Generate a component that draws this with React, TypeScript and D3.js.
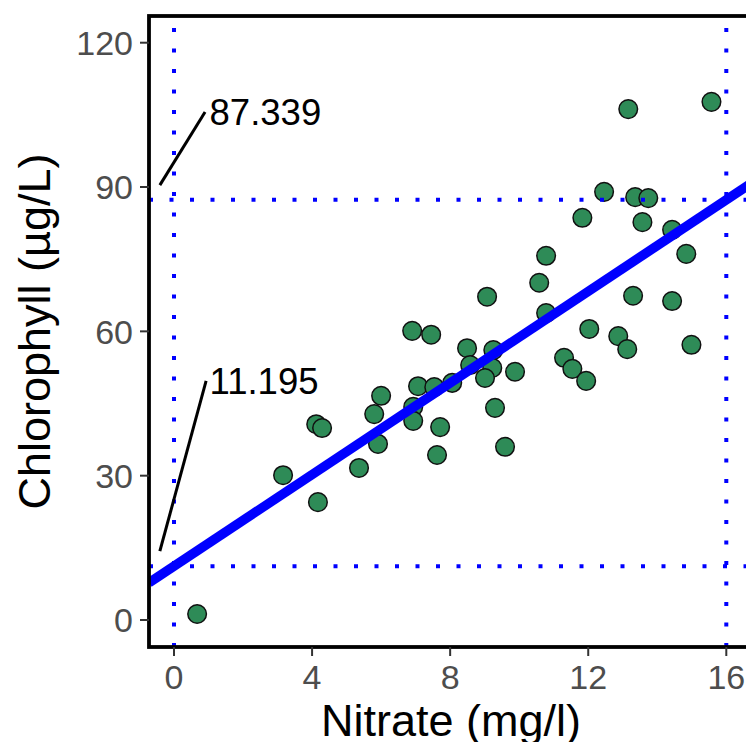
import React from "react";
import * as d3 from "d3";

const nitrate = [0.67, 3.16, 4.17, 4.12, 4.29, 5.36, 5.91, 5.8, 6.0, 6.9, 7.45, 7.07, 6.93, 6.93, 7.71, 7.62, 7.54, 8.06, 8.49, 9.25, 8.58, 9.22, 9.01, 9.88, 9.3, 9.59, 10.78, 10.58, 9.07, 10.78, 11.3, 11.54, 11.94, 12.03, 12.87, 13.13, 13.3, 14.43, 14.99, 13.16, 15.57, 12.46, 13.36, 13.74, 11.83, 13.57, 14.43, 14.84];
const chlorophyll = [1.25, 30.1, 24.5, 40.7, 39.9, 31.6, 36.6, 42.8, 46.6, 60.1, 59.3, 48.6, 44.3, 41.4, 40.1, 34.3, 48.4, 49.3, 56.5, 56.1, 53.0, 52.4, 50.3, 51.6, 44.1, 36.0, 75.7, 70.1, 67.2, 63.8, 54.5, 52.2, 49.7, 60.5, 59.0, 56.3, 67.4, 66.3, 57.2, 106.2, 107.7, 89.0, 87.9, 87.7, 83.6, 82.7, 81.1, 76.1];

const xTicks = [0, 4, 8, 12, 16];
const yTicks = [0, 30, 60, 90, 120];

const vLines = [0, 16];
const hLines = [11.195, 87.339];

const labelText = ["87.339", "11.195"];
const labelX = [1.03, 1.03];
const labelY = [105.6, 49.7];
const segX0 = [-0.41, -0.41];
const segY0 = [90.4, 14.3];
const segX1 = [0.9, 0.93];
const segY1 = [105.6, 49.7];

const fitX0 = 0;
const fitX1 = 16;

export default function App() {
  const W = 746, H = 742;
  const left = 149, right = 753, top = 16, bottom = 647;
  const x = d3.scaleLinear().domain([0, 16]).range([174, 726.3]);
  const y = d3.scaleLinear().domain([0, 120]).range([620, 42.7]);
  const xMin = x.invert(left), xMax = x.invert(right);
  const slope = (hLines[1] - hLines[0]) / (fitX1 - fitX0);
  const fit = (v: number) => hLines[0] + slope * (v - fitX0);
  const line = d3.line<number>().x((d) => x(d)).y((d) => y(fit(d)));
  const font = "'Liberation Sans', Arial, sans-serif";
  const dotted = { stroke: "#0000ff", strokeWidth: 4, strokeDasharray: "4 16.5", fill: "none" };
  return (
    <svg width={W} height={H} style={{ position: "absolute", left: 0, top: 0, background: "#fff" }} fontFamily={font}>
      <defs>
        <clipPath id="panel">
          <rect x={left} y={top} width={right - left} height={bottom - top} />
        </clipPath>
      </defs>
      <g clipPath="url(#panel)">
        {nitrate.map((v, i) => (
          <circle key={i} cx={x(v)} cy={y(chlorophyll[i])} r={9.3} fill="#2e8b57" stroke="#111" strokeWidth={1.5} />
        ))}
        {vLines.map((v, i) => (
          <line key={"v" + i} x1={x(v)} x2={x(v)} y1={bottom} y2={top} {...dotted} />
        ))}
        {hLines.map((v, i) => (
          <line key={"h" + i} x1={left} x2={right} y1={y(v)} y2={y(v)} {...dotted} />
        ))}
        <path d={line([xMin, xMax]) || ""} stroke="#0000ff" strokeWidth={9.5} fill="none" />
        {labelText.map((t, i) => (
          <g key={"l" + i}>
            <line x1={x(segX0[i])} y1={y(segY0[i])} x2={x(segX1[i])} y2={y(segY1[i])} stroke="#000" strokeWidth={3} />
            <text x={x(labelX[i])} y={y(labelY[i])} dy="0.35em" fontSize={36.5} fill="#000">{t}</text>
          </g>
        ))}
      </g>
      <rect x={left} y={top} width={right - left} height={bottom - top} fill="none" stroke="#000" strokeWidth={3.8} />
      {xTicks.map((t) => (
        <g key={"xt" + t}>
          <line x1={x(t)} x2={x(t)} y1={bottom} y2={bottom + 9} stroke="#333" strokeWidth={2} />
          <text x={x(t)} y={689} textAnchor="middle" fontSize={34} fill="#4d4d4d">{t}</text>
        </g>
      ))}
      {yTicks.map((t) => (
        <g key={"yt" + t}>
          <line x1={left - 9} x2={left} y1={y(t)} y2={y(t)} stroke="#333" strokeWidth={2} />
          <text x={133} y={y(t)} dy="0.36em" textAnchor="end" fontSize={34} fill="#4d4d4d">{t}</text>
        </g>
      ))}
      <text x={(left + right) / 2} y={736} textAnchor="middle" fontSize={45} fill="#000">Nitrate (mg/l)</text>
      <text transform={`translate(50,${(top + bottom) / 2}) rotate(-90)`} textAnchor="middle" fontSize={45} fill="#000">Chlorophyll (µg/L)</text>
    </svg>
  );
}
